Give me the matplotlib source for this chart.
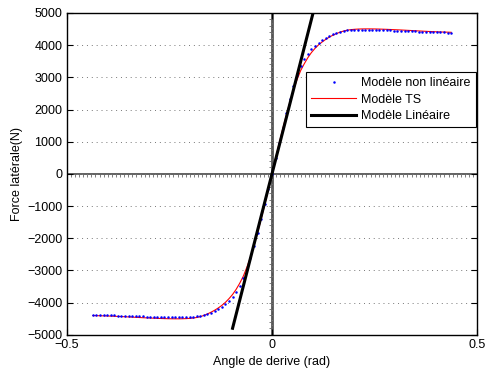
import numpy as np
import matplotlib
matplotlib.use("Agg")
import matplotlib.pyplot as plt

plt.rcParams['font.family'] = ['Liberation Sans', 'DejaVu Sans']

# slip angle grid (degrees), converted to rad for plotting
angle_deg = np.arange(-25, 25.5, 0.5)

# non-linear model (blue dots), N
nonlin_neg = [-4375, -4380, -4384, -4388, -4392, -4396, -4400, -4404, -4408, -4412,
              -4416, -4420, -4424, -4428, -4432, -4436, -4440, -4444, -4448, -4452,
              -4456, -4459, -4461, -4462, -4462, -4460, -4456, -4450, -4441, -4429,
              -4412, -4390, -4360, -4325, -4275, -4215, -4145, -4060, -3960, -3830,
              -3670, -3480, -3250, -2960, -2620, -2240, -1830, -1390, -935, -470]
nonlin_pos = [0, 490, 970, 1440, 1900, 2330, 2720, 3060, 3340, 3560,
              3730, 3870, 3985, 4075, 4150, 4220, 4280, 4335, 4380, 4420,
              4450, 4465, 4474, 4478, 4480, 4480, 4479, 4477, 4474, 4471,
              4468, 4464, 4460, 4456, 4452, 4448, 4444, 4440, 4436, 4432,
              4428, 4424, 4420, 4416, 4412, 4408, 4404, 4400, 4396, 4392, 4388]

# TS model (red line), N
ts_neg = [-4405, -4408, -4411, -4414, -4418, -4422, -4427, -4432, -4437, -4442,
          -4448, -4454, -4460, -4466, -4472, -4477, -4482, -4487, -4492, -4496,
          -4500, -4503, -4505, -4506, -4506, -4504, -4500, -4493, -4482, -4465,
          -4440, -4400, -4355, -4300, -4240, -4170, -4090, -3995, -3880, -3750,
          -3590, -3400, -3180, -2900, -2590, -2220, -1820, -1390, -945, -478]
ts_pos = [0, 480, 950, 1400, 1830, 2230, 2600, 2930, 3210, 3420,
          3610, 3770, 3900, 4010, 4100, 4180, 4250, 4310, 4360, 4405,
          4440, 4465, 4482, 4493, 4500, 4504, 4506, 4506, 4505, 4503,
          4500, 4496, 4492, 4487, 4482, 4477, 4472, 4466, 4460, 4454,
          4448, 4442, 4436, 4430, 4425, 4420, 4415, 4411, 4407, 4404, 4400]

# linear model (black)
lin_x = [-0.096, 0.105]
lin_y = [-4800, 5250]

x_rad = np.deg2rad(angle_deg)
nonlin = np.array(nonlin_neg + nonlin_pos)
ts = np.array(ts_neg + ts_pos)

fig = plt.figure(figsize=(4.86, 3.79), dpi=100)
ax = fig.add_axes([0.1372, 0.1169, 0.8449, 0.8488])

ax.set_xlim(-0.5, 0.5)
ax.set_ylim(-5000, 5000)
ax.set_xticks([-0.5, 0, 0.5])
ax.set_xticklabels(['\u22120.5', '0', '0.5'])
ax.set_yticks(np.arange(-5000, 5001, 1000))
ax.grid(True, linestyle=(0, (1, 4)), color='#777777', linewidth=0.7)
ax.tick_params(direction='in', length=4, top=True, right=True, labelsize=9, width=0.8, pad=3)
for s in ax.spines.values():
    s.set_linewidth(1.0)

# axes through origin with small ticks
ax.axhline(0, color='#555555', lw=1.3, zorder=1.5)
ax.axvline(0, color='#555555', lw=2.0, zorder=1.5)
htk = np.arange(-0.5, 0.501, 0.01)
ax.plot(htk, np.zeros_like(htk), linestyle='none', marker=3, markersize=2,
        color='#666666', mew=0.6, zorder=1.5)
vtk = np.arange(-5000, 5001, 200)
ax.plot(np.zeros_like(vtk), vtk, linestyle='none', marker=0, markersize=2,
        color='#666666', mew=0.6, zorder=1.5)

ax.plot(x_rad, ts, color='#ff0000', lw=0.8, label='Modèle TS', zorder=3)
ax.plot(x_rad, nonlin, linestyle='none', marker='o', markersize=1.8, mew=0,
        color='#0000ff', label='Modèle non linéaire', zorder=4)
ax.plot(lin_x, lin_y, color='black', lw=2.2, label='Modèle Linéaire', zorder=5)

handles, labels = ax.get_legend_handles_labels()
order = [1, 0, 2]
leg = ax.legend([handles[i] for i in order], [labels[i] for i in order],
                loc='upper right', bbox_to_anchor=(0.996, 0.816), borderaxespad=0,
                fontsize=9, frameon=True, fancybox=False, edgecolor='black',
                handlelength=3.6, handletextpad=0.4, borderpad=0.4, labelspacing=0.35,
                markerscale=1.0)
leg.get_frame().set_linewidth(0.8)
leg.get_frame().set_alpha(1)

ax.set_xlabel('Angle de derive (rad)', fontsize=9, labelpad=4)
ax.set_ylabel('Force latérale(N)', fontsize=9, labelpad=3)

fig.savefig('out.png', dpi=100)
